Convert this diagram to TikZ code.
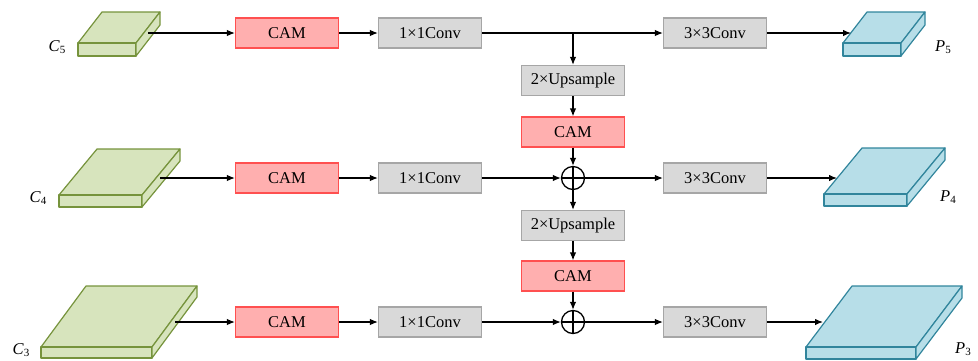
\documentclass[tikz,border=0pt]{standalone}
\usepackage{fontspec}
\setmainfont{Liberation Serif}
\usetikzlibrary{arrows.meta}
\definecolor{gfill}{HTML}{D7E4BD}
\definecolor{gline}{HTML}{76933C}
\definecolor{bfill}{HTML}{B7DEE8}
\definecolor{bline}{HTML}{31859C}
\definecolor{rfill}{HTML}{FFAFAF}
\definecolor{rline}{HTML}{FF5050}
\definecolor{kfill}{HTML}{D9D9D9}
\definecolor{kline}{HTML}{A6A6A6}
\newcommand\mylbl[2]{{\itshape #1}\raisebox{-0.35ex}{\fontsize{11}{11}\selectfont #2}}
% slab: #1 x, #2 y (bottom-left of top face), #3 width, #4 dx, #5 dy, #6 thickness, #7 fill, #8 line
\newcommand\slab[8]{%
  \draw[#8,fill=#7,line width=1.2pt,line join=round] (#1,#2) -- ++(#4,#5) -- ++(#3,0) -- ++(-#4,-#5) -- cycle;
  \draw[#8,fill=#7,line width=1.2pt,line join=round] (#1,#2) rectangle ++(#3,#6);
  \draw[#8,fill=#7,line width=1.2pt,line join=round] (#1+#3,#2) -- ++(#4,#5) -- ++(0,#6) -- ++(-#4,-#5) -- cycle;
}
\tikzset{
  box/.style={draw, line width=1.2pt, minimum width=103pt, minimum height=30pt, inner sep=0pt, font=\fontsize{16.5}{16.5}\selectfont},
  cam/.style={box, draw=rline, fill=rfill},
  conv/.style={box, draw=kline, fill=kfill},
  arr/.style={line width=1.2pt, -{Latex[length=8pt,width=6.5pt]}},
  oplus/.style={draw, circle, line width=1.3pt, minimum size=23pt, inner sep=0pt,
    path picture={\draw[line width=1.3pt] (path picture bounding box.north) -- (path picture bounding box.south)
      (path picture bounding box.west) -- (path picture bounding box.east);}},
  lbl/.style={font=\fontsize{16.5}{16.5}\selectfont, inner sep=0pt}
}
\begin{document}
\begin{tikzpicture}[x=1pt,y=-1pt]
\useasboundingbox (0,0) rectangle (978,360);
% slabs
\slab{78}{43}{58}{24}{-31}{13}{gfill}{gline}
\slab{59}{195}{83}{38}{-46}{12}{gfill}{gline}
\slab{41}{347}{111}{45}{-61}{11}{gfill}{gline}
\slab{843}{43}{58}{24}{-31}{13}{bfill}{bline}
\slab{824}{194}{83}{38}{-46}{12}{bfill}{bline}
\slab{806}{347}{110}{46}{-61}{12}{bfill}{bline}
% labels
\node[lbl] (lc5) at (57,47) {\mylbl{C}{5}};
\node[lbl] (lc4) at (38,198) {\mylbl{C}{4}};
\node[lbl] (lc3) at (21,350) {\mylbl{C}{3}};
\node[lbl] (lp5) at (943,47) {\mylbl{P}{5}};
\node[lbl] (lp4) at (948,197) {\mylbl{P}{4}};
\node[lbl] (lp3) at (963,349) {\mylbl{P}{3}};
% slab connection points
\coordinate (c5) at (148,33);
\coordinate (c4) at (160,178);
\coordinate (c3) at (175,322);
\coordinate (p5) at (851,33);
\coordinate (p4) at (837,178);
\coordinate (p3) at (823,322);
% row 1
\node[cam] (cam1) at (287,33) {CAM};
\node[conv] (cv11) at (430,33) {1×1Conv};
\node[conv] (cv31) at (715,33) {3×3Conv};
\coordinate (br1) at (573,33);
\node[conv] (up1) at (573,80.5) {2×Upsample};
\node[cam] (camm1) at (573,132) {CAM};
% row 2
\node[cam] (cam2) at (287,178) {CAM};
\node[conv] (cv12) at (430,178) {1×1Conv};
\node[oplus] (ad2) at (573,178) {};
\node[conv] (cv32) at (715,178) {3×3Conv};
\node[conv] (up2) at (573,225.5) {2×Upsample};
\node[cam] (camm2) at (573,276) {CAM};
% row 3
\node[cam] (cam3) at (287,322) {CAM};
\node[conv] (cv13) at (430,322) {1×1Conv};
\node[oplus] (ad3) at (573,322) {};
\node[conv] (cv33) at (715,322) {3×3Conv};
% connectors
\draw[arr] (c5) -- (cam1);
\draw[arr] (cam1) -- (cv11);
\draw[arr] (cv11) -- (cv31);
\draw[arr] (br1) -- (up1);
\draw[arr] (up1) -- (camm1);
\draw[arr] (camm1) -- (ad2);
\draw[arr] (cv31) -- (p5);
\draw[arr] (c4) -- (cam2);
\draw[arr] (cam2) -- (cv12);
\draw[arr] (cv12) -- (ad2);
\draw[arr] (ad2) -- (cv32);
\draw[arr] (cv32) -- (p4);
\draw[arr] (ad2) -- (up2);
\draw[arr] (up2) -- (camm2);
\draw[arr] (camm2) -- (ad3);
\draw[arr] (c3) -- (cam3);
\draw[arr] (cam3) -- (cv13);
\draw[arr] (cv13) -- (ad3);
\draw[arr] (ad3) -- (cv33);
\draw[arr] (cv33) -- (p3);
\end{tikzpicture}
\end{document}
